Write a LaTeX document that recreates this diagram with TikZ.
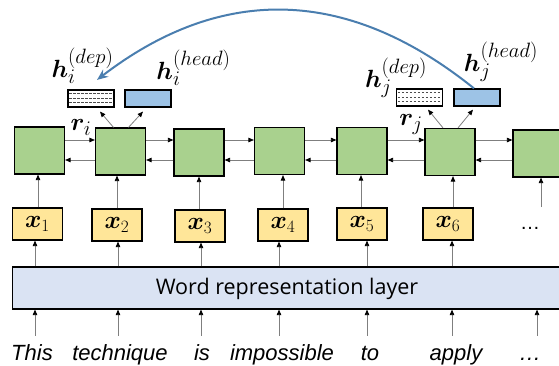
\documentclass[tikz,border=0pt]{standalone}
\usepackage{fontspec}
\usepackage{bm}
\setmainfont{Liberation Sans}
\newfontfamily\repfont{Open Sans}
\usetikzlibrary{arrows.meta}
\definecolor{gfill}{HTML}{A9D18E}
\definecolor{yfill}{HTML}{FFE699}
\definecolor{rfill}{HTML}{DAE3F3}
\definecolor{bfill}{HTML}{9DC3E6}
\definecolor{curveblue}{HTML}{4A7EAF}
\definecolor{arrgray}{HTML}{7F7F7F}
\begin{document}
\begin{tikzpicture}[x=1pt,y=-1pt,
  cell/.style={draw=black,fill=gfill,line width=1.2pt,minimum width=50pt,minimum height=47pt,inner sep=0pt},
  xbox/.style={draw=black,fill=yfill,line width=1.2pt,minimum width=50pt,minimum height=32pt,inner sep=0pt,font=\fontsize{27}{30}\selectfont},
  outb/.style={draw=black,line width=1.2pt,minimum width=46pt,minimum height=17pt,inner sep=0pt},
  arr/.style={draw=arrgray,line width=0.8pt,-{Triangle[length=5.5pt,width=4.5pt,color=black]}},
  word/.style={font=\fontsize{22}{26}\selectfont\itshape,anchor=base,text height=16pt,text depth=5pt,inner xsep=0pt,inner ysep=8pt},
  lab/.style={font=\fontsize{28}{32}\selectfont,inner sep=0pt},
  dline/.style={draw=black!70,line width=0.5pt,dash pattern=on 2.5pt off 1.5pt},
  curve/.style={draw=curveblue,line width=2pt,-{Stealth[length=11pt,width=9pt]}}]
\useasboundingbox (0,0) rectangle (559,365);
% LSTM cells
\node[cell] (g1) at (39.5,150.5) {};
\node[cell] (g2) at (120.5,151.5) {};
\node[cell] (g3) at (199,152.5) {};
\node[cell] (g4) at (279.5,151) {};
\node[cell] (g5) at (362,151) {};
\node[cell] (g6) at (450,152) {};
\node[cell] (g7) at (538,153.5) {};
% inputs
\node[xbox] (x1) at (37.5,224) {$\bm{x}_1$};
\node[xbox] (x2) at (117,225) {$\bm{x}_2$};
\node[xbox] (x3) at (200,226) {$\bm{x}_3$};
\node[xbox] (x4) at (283,225) {$\bm{x}_4$};
\node[xbox] (x5) at (362,224) {$\bm{x}_5$};
\node[xbox] (x6) at (448,224) {$\bm{x}_6$};
\node[font=\fontsize{20}{24}\selectfont,inner sep=0pt] (xd) at (530,228) {…};
\coordinate (c7) at (541,207);
% representation layer
\node[draw=black,fill=rfill,line width=1.2pt,minimum width=550pt,minimum height=42pt,inner sep=0pt,anchor=west] (rep) at (12,288) {};
\node[font=\repfont\fontsize{21.5}{24}\selectfont,inner sep=0pt] (reptxt) at (287,289) {Word representation layer};
% words
\node[word] (w1) at (32,360) {This};
\node[word] (w2) at (120,360) {technique};
\node[word] (w3) at (202,360) {is};
\node[word] (w4) at (282,360) {impossible};
\node[word] (w5) at (370,360) {to};
\node[word] (w6) at (456,360) {apply};
\node[word] (w7) at (530,360) {…};
% words -> rep
\draw[arr] ([xshift=3pt]w1.north) -- ([xshift=3pt]w1.north |- rep.south);
\draw[arr] ([xshift=-2pt]w2.north) -- ([xshift=-2pt]w2.north |- rep.south);
\draw[arr] ([xshift=-1pt]w3.north) -- ([xshift=-1pt]w3.north |- rep.south);
\draw[arr] ([xshift=-3pt]w4.north) -- ([xshift=-3pt]w4.north |- rep.south);
\draw[arr] ([xshift=-3pt]w5.north) -- ([xshift=-3pt]w5.north |- rep.south);
\draw[arr] ([xshift=-4pt]w6.north) -- ([xshift=-4pt]w6.north |- rep.south);
\draw[arr] ([xshift=7pt]w7.north) -- ([xshift=7pt]w7.north |- rep.south);
% rep -> x
\draw[arr] ([xshift=-2.5pt]x1.south |- rep.north) -- ([xshift=-2.5pt]x1.south);
\draw[arr] ([xshift=1pt]x2.south |- rep.north) -- ([xshift=1pt]x2.south);
\draw[arr] ([xshift=1pt]x3.south |- rep.north) -- ([xshift=1pt]x3.south);
\draw[arr] ([xshift=-4pt]x4.south |- rep.north) -- ([xshift=-4pt]x4.south);
\draw[arr] ([xshift=5pt]x5.south |- rep.north) -- ([xshift=5pt]x5.south);
\draw[arr] ([xshift=4pt]x6.south |- rep.north) -- ([xshift=4pt]x6.south);
% x -> cells
\draw[arr] ([xshift=0.5pt]x1.north) -- ([xshift=0.5pt]x1.north |- g1.south);
\draw[arr] (x2.north) -- (x2.north |- g2.south);
\draw[arr] ([xshift=-1pt]x3.north) -- ([xshift=-1pt]x3.north |- g3.south);
\draw[arr] (x4.north) -- (x4.north |- g4.south);
\draw[arr] ([xshift=-1pt]x5.north) -- ([xshift=-1pt]x5.north |- g5.south);
\draw[arr] ([xshift=5pt]x6.north) -- ([xshift=5pt]x6.north |- g6.south);
\draw[arr] (c7) -- (c7 |- g7.south);
% horizontal recurrences
\foreach \a/\b in {g1/g2,g2/g3,g3/g4,g4/g5,g5/g6,g6/g7}{
  \draw[arr] (\a.east |- 0,140) -- (\b.west |- 0,140);
  \draw[arr] (\b.west |- 0,160) -- (\a.east |- 0,160);
}
% output boxes
\node[outb,fill=white] (hid) at (91,98.5) {};
\node[outb,fill=bfill] (hih) at (148,98.5) {};
\node[outb,fill=white] (hjd) at (419.5,97.5) {};
\node[outb,fill=bfill] (hjh) at (477,97.5) {};
\foreach \n in {hid,hjd}{
  \foreach \s in {4.3,8.5,12.7}{
    \draw[dline] ([xshift=2pt,yshift=-\s pt]\n.north west) -- ([xshift=-2pt,yshift=-\s pt]\n.north east);
  }
}
% arrows to outputs
\draw[arr] ([xshift=-7pt]g2.north) -- ([xshift=9pt,yshift=-4pt]hid.south);
\draw[arr] ([xshift=8pt]g2.north) -- ([xshift=-5pt,yshift=-4pt]hih.south);
\draw[arr] ([xshift=-7pt]g6.north) -- ([xshift=8.5pt,yshift=-3pt]hjd.south);
\draw[arr] ([xshift=8pt]g6.north) -- ([xshift=-4pt,yshift=-3pt]hjh.south);
% labels
\node[lab] (lid) at (82.5,66) {$\bm{h}_i^{(dep)}$};
\node[lab] (lih) at (193.5,68) {$\bm{h}_i^{(head)}$};
\node[lab] (ljd) at (396,78) {$\bm{h}_j^{(dep)}$};
\node[lab] (ljh) at (501,62) {$\bm{h}_j^{(head)}$};
\node[lab] (ri) at (81,127) {$\bm{r}_i$};
\node[lab] (rj) at (411,124) {$\bm{r}_j$};
% long arc
\draw[curve] ([xshift=-3pt]hjh.north) .. controls (348,-13) and (222,-16) .. ([xshift=6pt,yshift=9.5pt]hid.north);
\end{tikzpicture}
\end{document}
